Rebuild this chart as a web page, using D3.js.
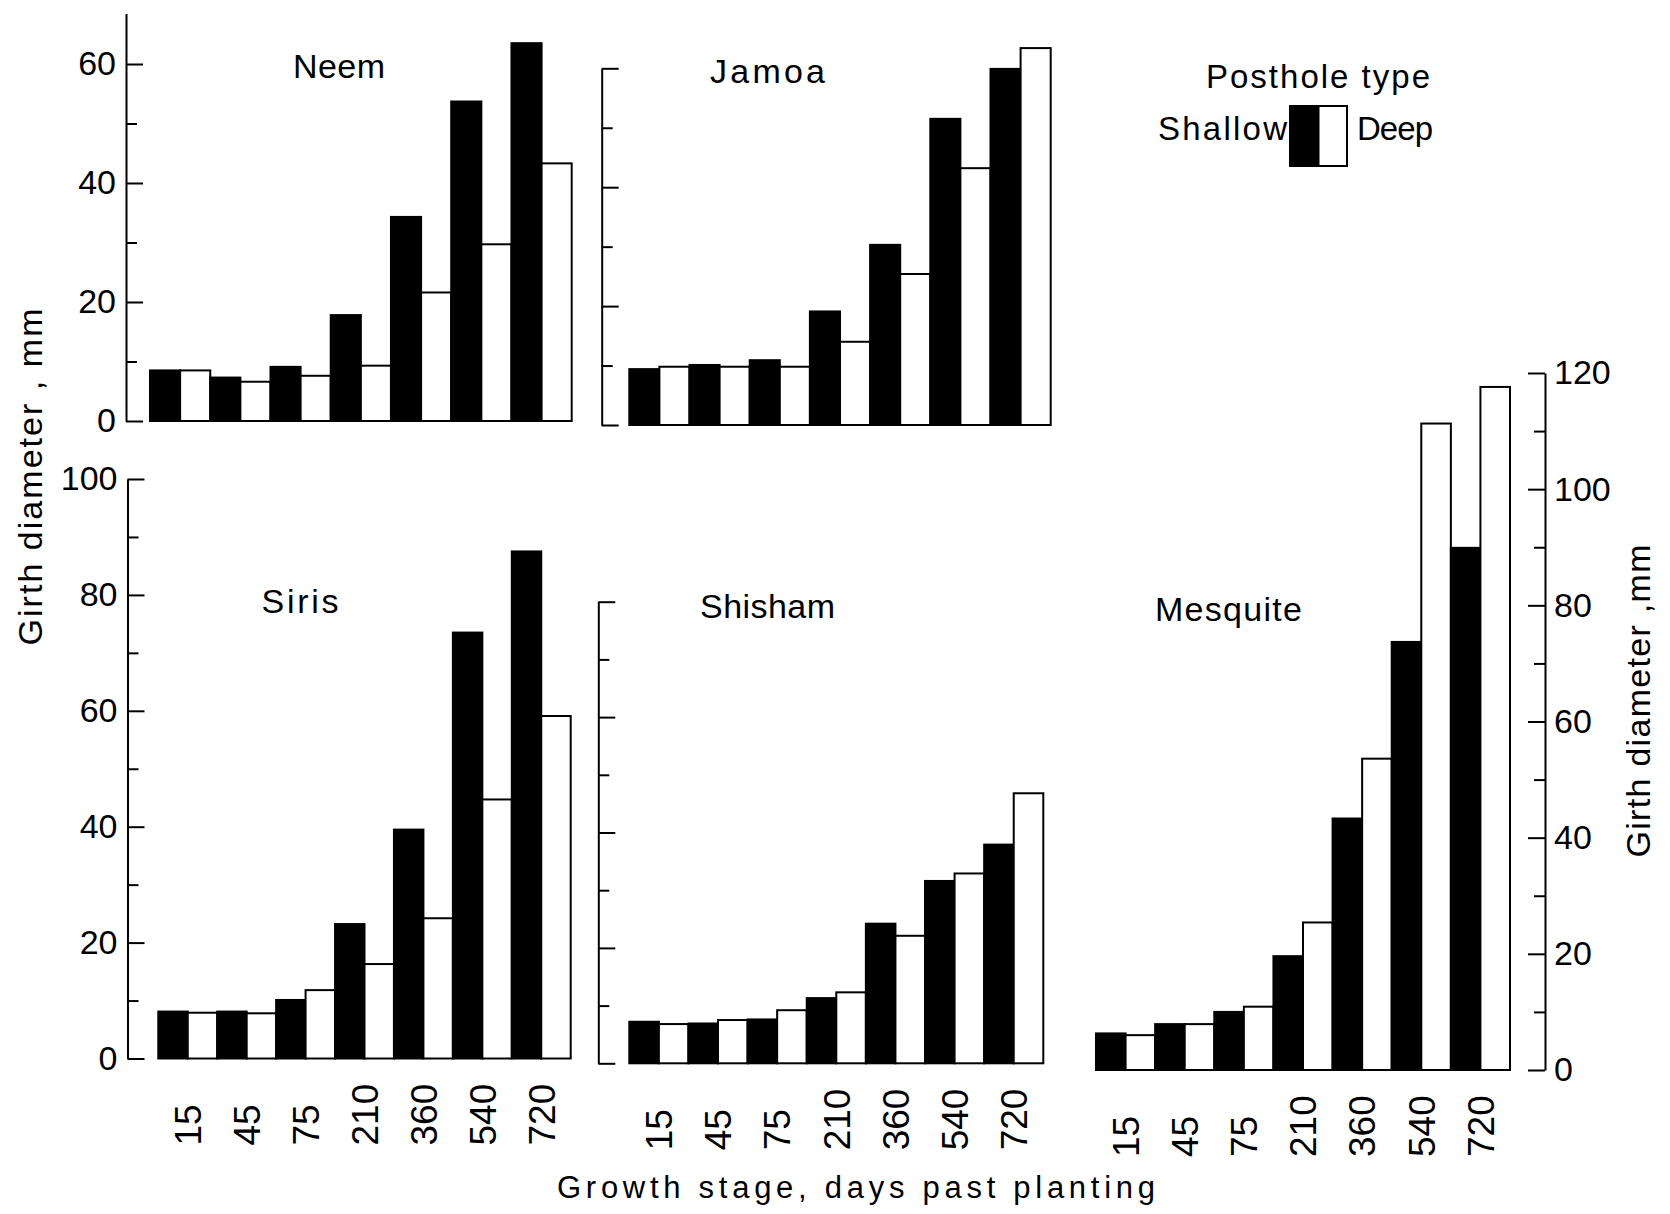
<!DOCTYPE html>
<html><head><meta charset="utf-8">
<script src="https://cdn.jsdelivr.net/npm/d3@7"></script>
<style>
html,body{margin:0;padding:0;background:#fff;}
svg{display:block;}
</style></head><body>
<svg id="chart" width="1670" height="1214"></svg>
<script>
// Growth stages (days past planting) and posthole types
const days = ["15", "45", "75", "210", "360", "540", "720"];
const series = ["Shallow", "Deep"];

// Girth diameter (mm) per species, shallow vs deep postholes
const neemShallow = [8.5, 7.3, 9.1, 17.8, 34.3, 53.7, 63.5];
const neemDeep = [8.5, 6.6, 7.6, 9.3, 21.6, 29.7, 43.3];
const jamoaShallow = [9.4, 10.1, 10.9, 19.1, 30.3, 51.5, 59.9];
const jamoaDeep = [9.8, 9.8, 9.8, 14.0, 25.4, 43.2, 63.4];
const sirisShallow = [8.1, 8.1, 10.1, 23.2, 39.5, 73.5, 87.5];
const sirisDeep = [7.9, 7.8, 11.8, 16.3, 24.2, 44.7, 59.1];
const shishamShallow = [7.2, 6.9, 7.6, 11.3, 24.2, 31.6, 37.9];
const shishamDeep = [6.8, 7.5, 9.2, 12.3, 22.1, 32.9, 46.8];
const mesquiteShallow = [6.3, 7.9, 10.0, 19.6, 43.3, 73.7, 89.9];
const mesquiteDeep = [6.0, 7.9, 10.9, 25.4, 53.6, 111.3, 117.6];

// Labelled tick values for the axes that carry numbers
const ticks60 = [0, 20, 40, 60];
const ticks100 = [0, 20, 40, 60, 80, 100];
const ticks120 = [0, 20, 40, 60, 80, 100, 120];

const FONT = "'Liberation Sans', Arial, Helvetica, sans-serif";
const svg = d3.select("#chart");

// Panel layout
const panels = [
  {title: "Neem", shallow: neemShallow, deep: neemDeep, x: [150, 571.7], y: [421, 64], vMax: 60, axisTop: 68.5,
   axisX: 126, side: "left", labels: ticks60, xLabels: false, tx: 339, ty: 78, tw: 92},
  {title: "Jamoa", shallow: jamoaShallow, deep: jamoaDeep, x: [629.3, 1050.7], y: [425, 68.3], vMax: 60, axisTop: 60,
   axisX: 601.7, side: "left", labels: null, xLabels: false, tx: 767.5, ty: 83, tw: 115},
  {title: "Siris", shallow: sirisShallow, deep: sirisDeep, x: [158.3, 570.7], y: [1058.5, 479], vMax: 100, axisTop: 100,
   axisX: 127.5, side: "left", labels: ticks100, xLabels: true, tx: 300, ty: 613, tw: 77},
  {title: "Shisham", shallow: shishamShallow, deep: shishamDeep, x: [629.3, 1043.3], y: [1063.3, 601.7], vMax: 80, axisTop: 80,
   axisX: 598.3, side: "left", labels: null, xLabels: true, tx: 767.5, ty: 618, tw: 135},
  {title: "Mesquite", shallow: mesquiteShallow, deep: mesquiteDeep, x: [1096, 1510], y: [1070, 373], vMax: 120, axisTop: 120,
   axisX: 1545, side: "right", labels: ticks120, xLabels: true, tx: 1228.5, ty: 621, tw: 147}
];

function styleAxis(sel) {
  sel.selectAll(".domain").attr("stroke", "#000").attr("stroke-width", 2);
  sel.selectAll(".tick line").attr("stroke", "#000").attr("stroke-width", 2);
  sel.selectAll(".tick text").attr("fill", "#000").style("font-family", FONT).style("font-size", "34px");
}

panels.forEach(p => {
  const g = svg.append("g");
  const x = d3.scaleBand().domain(days).range(p.x).padding(0);
  const xs = d3.scaleBand().domain(series).range([0, x.bandwidth()]).padding(0);
  const y = d3.scaleLinear().domain([0, p.vMax]).range(p.y);

  const rows = days.map((d, i) => ({day: d, values: [
    {s: "Shallow", v: p.shallow[i]}, {s: "Deep", v: p.deep[i]}]}));

  g.selectAll("g.grp").data(rows).join("g")
    .attr("class", "grp")
    .attr("transform", d => `translate(${x(d.day)},0)`)
    .selectAll("rect").data(d => d.values).join("rect")
    .attr("x", d => xs(d.s))
    .attr("width", xs.bandwidth())
    .attr("y", d => y(d.v))
    .attr("height", d => y(0) - y(d.v))
    .attr("fill", d => d.s === "Shallow" ? "#000" : "#fff")
    .attr("stroke", "#000")
    .attr("stroke-width", 2);

  // value axis with inward ticks: minor every 10, major every 20
  const ay = y.copy().domain([0, p.axisTop]).range([y(0), y(p.axisTop)]);
  const axisFn = p.side === "left" ? d3.axisLeft : d3.axisRight;
  const ag = g.append("g").attr("transform", `translate(${p.axisX},0)`);
  const minorVals = d3.range(10, p.vMax, 20);
  const majorVals = d3.range(0, p.vMax + 1, 20);

  const mi = ag.append("g").call(axisFn(ay).tickValues(minorVals).tickSizeInner(-11).tickSizeOuter(0).tickFormat(""));
  mi.select(".domain").remove();
  styleAxis(mi);
  const ma = ag.append("g").call(axisFn(ay).tickValues(majorVals).tickSizeInner(-17).tickSizeOuter(0)
    .tickPadding(p.side === "left" ? 10 : 9)
    .tickFormat(d => (p.labels && p.labels.includes(d)) ? d3.format("d")(d) : ""));
  styleAxis(ma);

  // species name
  g.append("text")
    .attr("x", p.tx).attr("y", p.ty)
    .attr("text-anchor", "middle")
    .attr("textLength", p.tw).attr("lengthAdjust", "spacing")
    .style("font-family", FONT).style("font-size", "34px")
    .text(p.title);

  // growth-stage labels, rotated
  if (p.xLabels) {
    const xa = g.append("g").attr("transform", `translate(0,${p.y[0] + 87})`)
      .call(d3.axisBottom(x).tickSize(0).tickPadding(0));
    xa.select(".domain").remove();
    xa.selectAll(".tick text")
      .attr("transform", "rotate(-90)")
      .attr("x", 0).attr("y", 0).attr("dy", "0.36em")
      .attr("text-anchor", "start")
      .attr("fill", "#000")
      .style("font-family", FONT).style("font-size", "37px");
  }
});

// Axis titles
svg.append("text")
  .attr("transform", "translate(42,477) rotate(-90)")
  .attr("text-anchor", "middle")
  .attr("textLength", 337).attr("lengthAdjust", "spacing")
  .style("font-family", FONT).style("font-size", "34px")
  .text("Girth diameter , mm");

svg.append("text")
  .attr("transform", "translate(1650,701) rotate(-90)")
  .attr("text-anchor", "middle")
  .attr("textLength", 313).attr("lengthAdjust", "spacing")
  .style("font-family", FONT).style("font-size", "34px")
  .text("Girth diameter ,mm");

svg.append("text")
  .attr("x", 856).attr("y", 1198)
  .attr("text-anchor", "middle")
  .attr("textLength", 598).attr("lengthAdjust", "spacing")
  .style("font-family", FONT).style("font-size", "31px")
  .text("Growth  stage, days past planting");

// Legend
const lg = svg.append("g");
lg.append("text")
  .attr("x", 1318).attr("y", 88).attr("text-anchor", "middle")
  .attr("textLength", 224).attr("lengthAdjust", "spacing")
  .style("font-family", FONT).style("font-size", "33px")
  .text("Posthole type");
const lx = d3.scaleBand().domain(series).range([1290, 1347]);
lg.selectAll("rect").data(series).join("rect")
  .attr("x", d => lx(d)).attr("width", lx.bandwidth())
  .attr("y", 106).attr("height", 60)
  .attr("fill", d => d === "Shallow" ? "#000" : "#fff")
  .attr("stroke", "#000").attr("stroke-width", 2);
lg.append("text")
  .attr("x", 1287).attr("y", 140).attr("text-anchor", "end")
  .attr("textLength", 129).attr("lengthAdjust", "spacing")
  .style("font-family", FONT).style("font-size", "33px")
  .text(series[0]);
lg.append("text")
  .attr("x", 1357).attr("y", 140).attr("text-anchor", "start")
  .attr("textLength", 76).attr("lengthAdjust", "spacing")
  .style("font-family", FONT).style("font-size", "33px")
  .text(series[1]);
</script>
</body></html>
